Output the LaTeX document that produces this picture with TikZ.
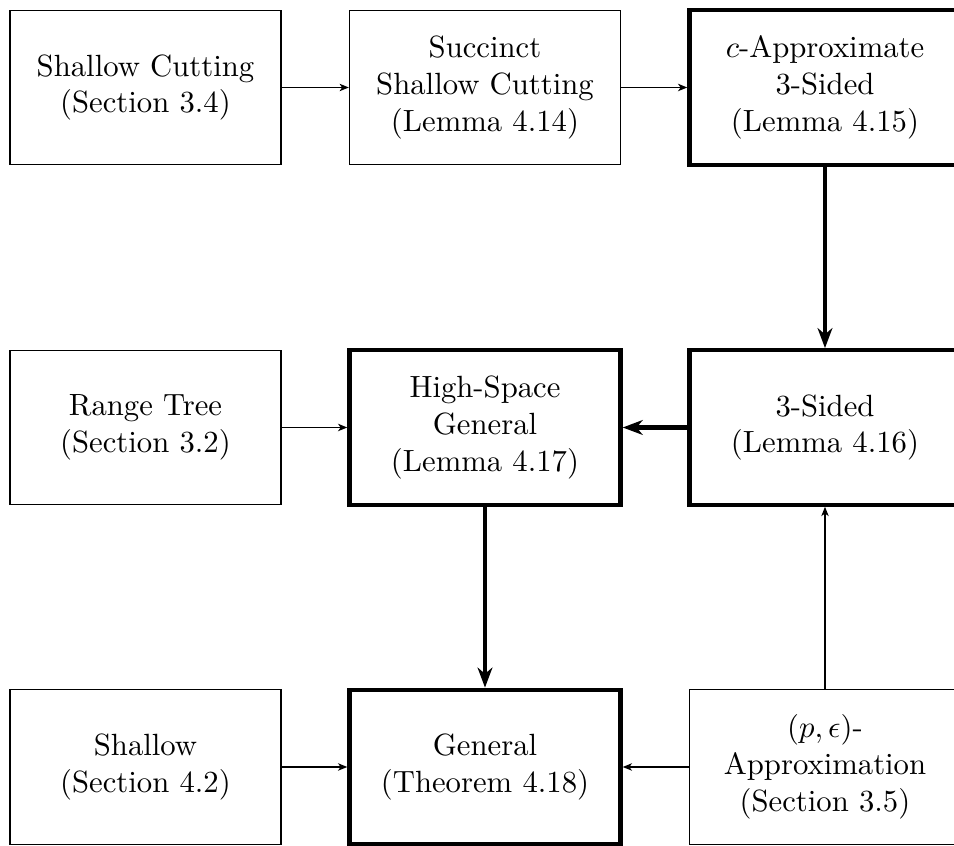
\documentclass[tikz,border=0pt]{standalone}
\usetikzlibrary{arrows.meta}
\begin{document}
\begin{tikzpicture}[x=0.3257pt,y=-0.3257pt,
  box/.style={draw,line width=0.4pt,minimum width=88.3pt,minimum height=50.3pt,align=center,inner sep=0pt,fill=white},
  bbox/.style={box,line width=1.4pt},
  thinarrow/.style={line width=0.4pt,-{Stealth[length=3pt,width=2.4pt,inset=0.8pt]}},
  thickarrow/.style={line width=1.4pt,-{Stealth[length=6.5pt,width=4.8pt,inset=2pt]}}]
\useasboundingbox (0,0) rectangle (954,846);
\clip (0,0) rectangle (954,846);
\node[box]  (sc)  at (145.5,87.5) {Shallow Cutting\\(Section 3.4)};
\node[box]  (ssc) at (485,87.5) {Succinct\\Shallow Cutting\\(Lemma 4.14)};
\node[bbox] (ca)  at (825,87.5) {$c$-Approximate\\3-Sided\\(Lemma 4.15)};
\node[box]  (rt)  at (145.5,427.5) {Range Tree\\(Section 3.2)};
\node[bbox] (hs)  at (485,427.5) {High-Space\\General\\(Lemma 4.17)};
\node[bbox] (ts)  at (825,427.5) {3-Sided\\(Lemma 4.16)};
\node[box]  (sh)  at (145.5,767) {Shallow\\(Section 4.2)};
\node[bbox] (ge)  at (485,767) {General\\(Theorem 4.18)};
\node[box]  (pe)  at (825,767) {$(p,\epsilon)$-\\Approximation\\(Section 3.5)};
\draw[thinarrow] (sc) -- (ssc);
\draw[thinarrow] (ssc) -- (ca);
\draw[thickarrow] (ca) -- (ts);
\draw[thickarrow] (ts) -- (hs);
\draw[thinarrow] (rt) -- (hs);
\draw[thickarrow] (hs) -- (ge);
\draw[thinarrow] (sh) -- (ge);
\draw[thinarrow] (pe) -- (ge);
\draw[thinarrow] (pe) -- (ts);
\end{tikzpicture}
\end{document}
